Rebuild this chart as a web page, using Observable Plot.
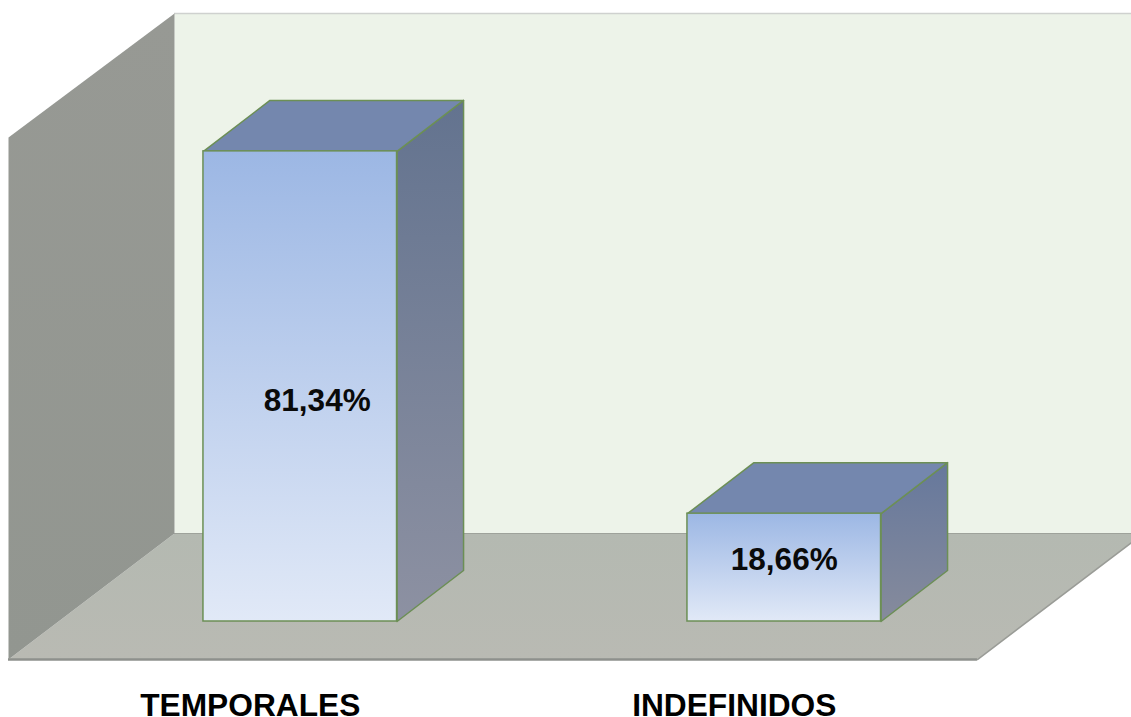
<!DOCTYPE html>
<html><head><meta charset="utf-8">
<script src="https://cdn.jsdelivr.net/npm/d3@7"></script>
<script src="https://cdn.jsdelivr.net/npm/@observablehq/plot@0.6"></script>
<style>html,body{margin:0;padding:0;background:#fff;overflow:hidden}svg{display:block}</style>
</head><body><div id="chart"></div>
<script>
// Data
const categories = ["TEMPORALES", "INDEFINIDOS"];
const values = [81.34, 18.66];
const valueLabels = ["81,34%", "18,66%"];

// Projection of the 3D scene, in data units (x: category index, y: percent)
const halfBar = 0.2;
const depthX = 0.1374, depthY = 8.82;
const wallTop = 105.2, wallLeft = -0.2598;
const wallDepthX = 0.343, wallDepthY = 21.8;      // from back wall to front edge
const backRight = 1.7422;
const floorBack = 15.22;
const floorFrontY = floorBack - wallDepthY;
const labelY = [38.2, 10.73], labelDx = [17, 0];
const rows = categories.map((c, i) => ({c, i, v: values[i], label: valueLabels[i], ly: labelY[i], ldx: labelDx[i]}));

const poly = (pts, o) => Plot.line(pts, {x: "0", y: "1", curve: "linear-closed", ...o});
const grad = (id, stops) => `<linearGradient id="${id}" x1="0" y1="0" x2="0" y2="1">` +
  stops.map(([o, c]) => `<stop offset="${o}" stop-color="${c}"/>`).join("") + `</linearGradient>`;
const defs = () => {
  const g = document.createElementNS("http://www.w3.org/2000/svg", "defs");
  g.innerHTML =
    grad("front", [[0, "#9cb7e4"], [1, "#e1e9f7"]]) +
    grad("side1", [[0, "#63738f"], [1, "#8d91a2"]]) +
    grad("side2", [[0, "#66789c"], [1, "#868b9c"]]) +
    grad("floor", [[0, "#b4b9b1"], [1, "#b9bab3"]]) +
    grad("lwall", [[0, "#979994"], [1, "#929690"]]);
  return g;
};
const edge = "#6c8f55";
const boxes = rows.flatMap((r, k) => {
  const l = r.i - halfBar, x2 = r.i + halfBar;
  return [
    poly([[x2, r.v], [x2 + depthX, r.v + depthY], [x2 + depthX, depthY], [x2, 0]],
      {fill: `url(#side${k + 1})`, stroke: edge, strokeWidth: 1.5}),
    poly([[l, r.v], [l + depthX, r.v + depthY], [x2 + depthX, r.v + depthY], [x2, r.v]],
      {fill: "#7487ae", stroke: edge, strokeWidth: 1.5}),
    Plot.rect([r], {x1: () => l, x2: () => x2, y1: () => 0, y2: "v",
      fill: "url(#front)", stroke: edge, strokeWidth: 1.5})
  ];
});

const chart = Plot.plot({
  width: 1131, height: 717,
  marginTop: 0, marginRight: 0, marginBottom: 0, marginLeft: 0,
  style: {background: "#fff", fontFamily: "'Liberation Sans', Arial, sans-serif"},
  x: {domain: [-299.75 / 484, (1131 - 299.75) / 484], range: [0, 1131], axis: null},
  y: {domain: [621 / 5.78, (621 - 717) / 5.78], range: [0, 717], axis: null},
  marks: [
    defs,
    // back wall
    poly([[wallLeft, wallTop], [backRight, wallTop], [backRight, floorBack], [wallLeft, floorBack]],
      {fill: "#edf3e9"}),
    Plot.ruleY([wallTop], {x1: wallLeft, x2: backRight, stroke: "#cfd1cf", strokeWidth: 1.5}),
    // floor
    poly([[wallLeft, floorBack], [backRight, floorBack],
          [backRight - wallDepthX, floorFrontY], [wallLeft - wallDepthX, floorFrontY]],
      {fill: "url(#floor)"}),
    Plot.ruleY([floorBack], {x1: wallLeft, x2: backRight, stroke: "#9da19a", strokeWidth: 1}),
    Plot.line([[backRight - wallDepthX, floorFrontY], [backRight, floorBack]],
      {x: "0", y: "1", stroke: "#9a9c97", strokeWidth: 1.5}),
    Plot.ruleY([floorFrontY], {x1: wallLeft - wallDepthX, x2: backRight - wallDepthX,
      stroke: "#8e908c", strokeWidth: 2.5}),
    // left wall
    poly([[wallLeft, wallTop], [wallLeft - wallDepthX, wallTop - 21.45],
          [wallLeft - wallDepthX, floorFrontY], [wallLeft, floorBack]],
      {fill: "url(#lwall)"}),
    ...boxes,
    ...rows.map(r => Plot.text([r], {x: "i", y: "ly", text: "label", dx: r.ldx,
      fontSize: 31.5, fontWeight: "bold", fill: "#0a0a0a"})),
    Plot.text(rows, {x: "i", y: () => -16.61, text: "c", dx: -50, dy: -2, lineAnchor: "bottom",
      fontSize: 31.7, fontWeight: "bold", fill: "#000"})
  ]
});
document.getElementById("chart").append(chart);
</script></body></html>
